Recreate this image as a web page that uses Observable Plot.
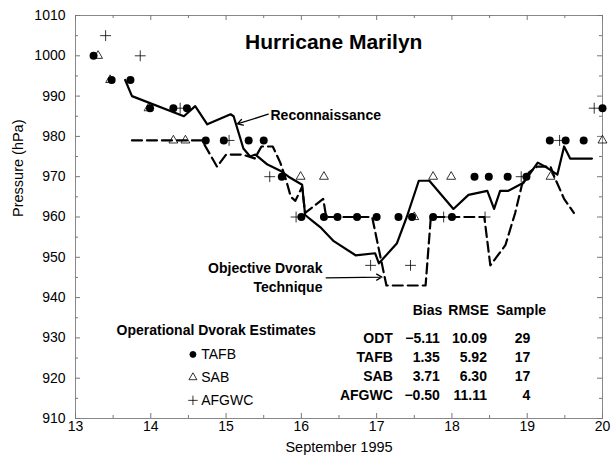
<!DOCTYPE html>
<html><head><meta charset="utf-8">
<script src="https://cdn.jsdelivr.net/npm/d3@7"></script>
<script src="https://cdn.jsdelivr.net/npm/@observablehq/plot@0.6"></script>
<style>body{margin:0;background:#fff}</style>
</head><body><div id="chart"></div>
<script>
// Reconnaissance (solid line)
const reconDay = [13.66, 13.75, 14.44, 14.59, 14.75, 15.06, 15.10, 15.23, 15.32, 15.39, 15.55, 15.72, 15.83, 16.01, 16.05, 16.15, 16.25, 16.43, 16.72, 16.98, 17.03, 17.27, 17.40, 17.56, 17.70, 18.02, 18.22, 18.47, 18.56, 18.64, 18.75, 18.95, 19.14, 19.24, 19.40, 19.49, 19.57, 19.86];
const reconP   = [994, 990, 985, 987.5, 983, 985.5, 985, 977, 975, 975.5, 973, 971.5, 970, 968, 960.5, 959, 957.5, 954, 950.5, 951, 948.5, 953.5, 960, 969, 969, 962, 965.5, 966.5, 962, 966.5, 966.5, 968.5, 973.5, 972.5, 970.5, 977.5, 974.5, 974.5];
// Objective Dvorak Technique (dashed line)
const odtDay = [13.75, 14.68, 14.88, 15.0, 15.22, 15.38, 15.47, 15.62, 15.72, 15.80, 15.86, 15.92, 16.01, 16.05, 16.12, 16.29, 16.33, 16.94, 17.13, 17.65, 17.72, 18.43, 18.51, 18.71, 18.84, 18.93, 19.02, 19.13, 19.31, 19.36, 19.49, 19.62];
const odtP   = [979, 979, 972.5, 975.5, 975.5, 974.5, 977.5, 977.5, 973.5, 969, 965, 964, 967.5, 961, 962, 964.5, 960, 960, 943, 943, 960, 960, 948, 953, 961, 968, 971, 972.5, 972.5, 970, 964.5, 961];
// Operational Dvorak estimates
const tafbDay = [13.24, 13.48, 13.73, 13.99, 14.30, 14.48, 14.73, 14.97, 15.30, 15.50, 15.74, 16.0, 16.30, 16.48, 16.74, 17.0, 17.29, 17.47, 17.75, 18.0, 18.30, 18.49, 18.74, 18.99, 19.30, 19.51, 19.75, 20.0];
const tafbP   = [1000, 994, 994, 987, 987, 987, 979, 979, 979, 979, 970, 960, 960, 960, 960, 960, 960, 960, 960, 960, 970, 970, 970, 970, 979, 979, 979, 987];
const sabDay = [13.30, 13.46, 13.97, 14.30, 14.46, 15.99, 16.30, 17.50, 17.75, 17.99, 19.31, 20.0];
const sabP   = [1000, 994, 987, 979, 979, 970, 970, 960, 970, 970, 970, 979];
const afgwcDay = [13.40, 13.86, 14.39, 15.04, 15.58, 15.93, 16.92, 17.45, 17.89, 18.44, 18.92, 19.43, 19.89];
const afgwcP   = [1005, 1000, 987, 979, 970, 960, 948, 948, 960, 960, 970, 979, 987];
// Statistics table
const statRows = ["ODT", "TAFB", "SAB", "AFGWC"];
const statBias = [-5.11, 1.35, 3.71, -0.50];
const statRmse = [10.09, 5.92, 6.30, 11.11];
const statSample = [29, 17, 17, 4];
const statHeaders = ["Bias", "RMSE", "Sample"];
const legendNames = ["TAFB", "SAB", "AFGWC"];
const legendSymbols = ["circle", "triangle", "plus"];
const xTicks = [13, 14, 15, 16, 17, 18, 19, 20];
const yTicks = [910, 920, 930, 940, 950, 960, 970, 980, 990, 1000, 1010];

const toPts = (xs, ys) => xs.map((x, i) => ({day: x, p: ys[i]}));
const recon = toPts(reconDay, reconP);
const odt = toPts(odtDay, odtP);
const tafb = toPts(tafbDay, tafbP);
const sab = toPts(sabDay, sabP);
const afgwc = toPts(afgwcDay, afgwcP);

const W = 613, H = 457, mt = 15, mb = 39, ml = 75, mr = 11;
const plotH = H - mt - mb, plotW = W - ml - mr;
const xMinor = d3.range(13.5, 20, 1);
const yMinor = d3.range(915, 1010, 10);
const font = "'Liberation Sans', Arial, Helvetica, sans-serif";
const fmt = d3.format(".2f");
const tickCol = "#777";
const rowY = (i) => 929.8 - i * 4.7;
const legY = (i) => 925.9 - i * 5.7;

const chart = Plot.plot({
  width: W, height: H,
  marginTop: mt, marginBottom: mb, marginLeft: ml, marginRight: mr,
  style: {fontFamily: font, fontSize: "14px", background: "white", color: "black"},
  x: {domain: [13, 20], ticks: xTicks, tickFormat: d => String(d), tickSize: 0, tickPadding: 3, label: null},
  y: {domain: [910, 1010], ticks: yTicks, tickFormat: d => String(d), tickSize: 0, tickPadding: 10, label: null},
  marks: [
    Plot.frame({stroke: "#888"}),
    // inward ticks on all four sides
    Plot.tickX(xTicks, {x: d => d, insetTop: plotH - 5, stroke: tickCol}),
    Plot.tickX(xTicks, {x: d => d, insetBottom: plotH - 5, stroke: tickCol}),
    Plot.tickX(xMinor, {x: d => d, insetTop: plotH - 3, stroke: tickCol}),
    Plot.tickX(xMinor, {x: d => d, insetBottom: plotH - 3, stroke: tickCol}),
    Plot.tickY(yTicks, {y: d => d, insetRight: plotW - 5, stroke: tickCol}),
    Plot.tickY(yTicks, {y: d => d, insetLeft: plotW - 5, stroke: tickCol}),
    Plot.tickY(yMinor, {y: d => d, insetRight: plotW - 3, stroke: tickCol}),
    Plot.tickY(yMinor, {y: d => d, insetLeft: plotW - 3, stroke: tickCol}),
    // series
    Plot.line(recon, {x: "day", y: "p", stroke: "black", strokeWidth: 2.2}),
    Plot.line(odt, {x: "day", y: "p", stroke: "black", strokeWidth: 2.2, strokeDasharray: "10,5"}),
    Plot.dot(tafb, {x: "day", y: "p", r: 4, fill: "black", symbol: "circle"}),
    Plot.dot(sab, {x: "day", y: "p", r: 3.3, symbol: "triangle", stroke: "black", fill: "white", fillOpacity: 0, strokeWidth: 0.8}),
    Plot.dot(afgwc, {x: "day", y: "p", r: 3.6, symbol: "plus", stroke: "black", strokeWidth: 0.8}),
    // title and annotations
    Plot.text(["Hurricane Marilyn"], {x: 16.43, y: 1003.4, fontSize: 21, fontWeight: "bold"}),
    Plot.text(["Reconnaissance"], {x: 15.59, y: 985.3, textAnchor: "start", fontSize: 14, fontWeight: "bold"}),
    Plot.arrow([0], {x1: 15.56, y1: 985.5, x2: 15.15, y2: 983.1, stroke: "black", strokeWidth: 1.3, headLength: 7}),
    Plot.text(["Objective Dvorak", "Technique"], {x: 16.28, y: (d, i) => 947.2 - i * 4.7, textAnchor: "end", fontSize: 14, fontWeight: "bold"}),
    Plot.arrow([0], {x1: 16.33, y1: 944.9, x2: 17.07, y2: 945.1, stroke: "black", strokeWidth: 1.3, headLength: 7}),
    // legend
    Plot.text(["Operational Dvorak Estimates"], {x: 13.545, y: 931.8, textAnchor: "start", fontSize: 14, fontWeight: "bold"}),
    Plot.dot(legendNames, {x: 14.56, y: (d, i) => legY(i), r: (d, i) => [3.2, 3, 3.4][i], symbol: (d, i) => legendSymbols[i], fill: (d, i) => i === 0 ? "black" : "none", stroke: "black", strokeWidth: 0.8}),
    Plot.text(legendNames, {x: 14.67, y: (d, i) => legY(i), textAnchor: "start", fontSize: 14}),
    // stats table
    Plot.text(statHeaders, {x: (d, i) => [17.675, 18.22, 18.92][i], y: 936.8, fontSize: 14, fontWeight: "bold"}),
    Plot.text(statRows, {x: 17.215, y: (d, i) => rowY(i), textAnchor: "end", fontSize: 14, fontWeight: "bold"}),
    Plot.text(statBias, {x: 17.84, y: (d, i) => rowY(i), text: d => fmt(d), textAnchor: "end", fontSize: 14, fontWeight: "bold"}),
    Plot.text(statRmse, {x: 18.465, y: (d, i) => rowY(i), text: d => fmt(d), textAnchor: "end", fontSize: 14, fontWeight: "bold"}),
    Plot.text(statSample, {x: 19.04, y: (d, i) => rowY(i), text: d => String(d), textAnchor: "end", fontSize: 14, fontWeight: "bold"}),
    // axis titles
    Plot.text(["Pressure (hPa)"], {frameAnchor: "left", dx: -57, rotate: -90, lineAnchor: "middle", fontSize: 14.5}),
    Plot.text(["September 1995"], {frameAnchor: "bottom", dy: 29, lineAnchor: "middle", fontSize: 14.5})
  ]
});
document.getElementById("chart").appendChild(chart);
</script>
</body></html>
